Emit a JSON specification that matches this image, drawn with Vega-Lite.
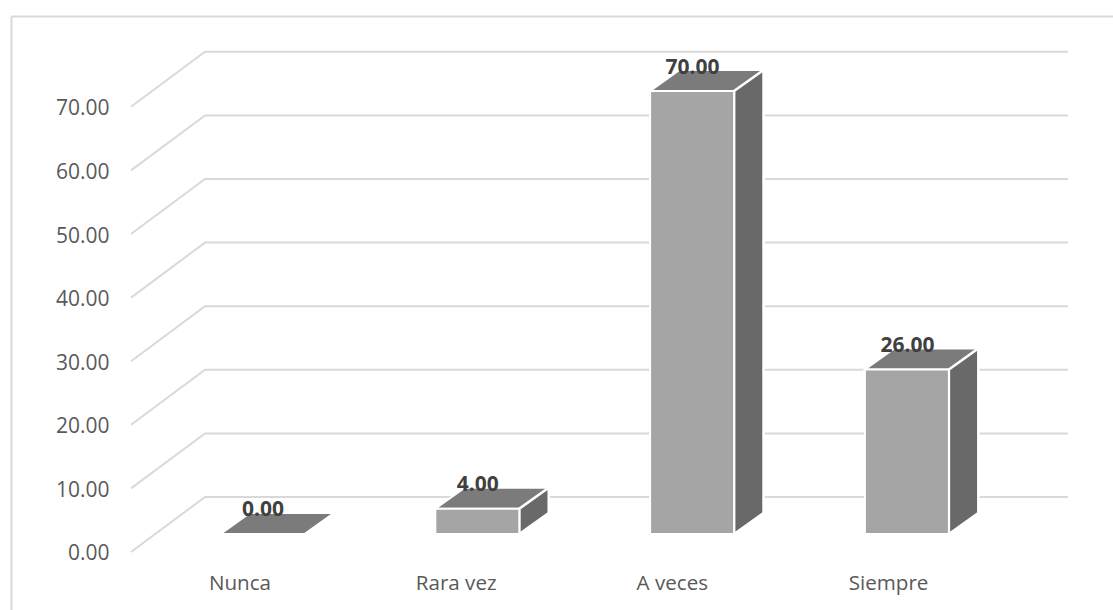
{
"$schema":"https://vega.github.io/schema/vega-lite/v6.json",
"width":1102,"height":594,
"padding":{"left":11,"top":16,"right":0,"bottom":0},
"autosize":"none",
"background":"white",
"view":{"stroke":null},
"config":{"font":"Open Sans"},
"data":{"values":[
{"categoria":"Nunca","valor":0},
{"categoria":"Rara vez","valor":4},
{"categoria":"A veces","valor":70},
{"categoria":"Siempre","valor":26}]},
"transform":[
{"calculate":"indexof(['Nunca','Rara vez','A veces','Siempre'],datum.categoria)","as":"xc"},
{"calculate":"2.83+datum.valor*0.995","as":"h"}],
"resolve":{"scale":{"x":"independent"},"axis":{"x":"independent","y":"independent"}},
"layer":[
{"data":{"values":[{"v":0},{"v":10},{"v":20},{"v":30},{"v":40},{"v":50},{"v":60},{"v":70}]},
 "transform":[
 {"calculate":"-0.6145","as":"p0"},{"calculate":"-0.27","as":"p1"},{"calculate":"3.7477","as":"p2"},
 {"fold":["p0","p1","p2"],"as":["corner","gx"]},
 {"calculate":"datum.corner=='p0'?datum.v:datum.v+8.65","as":"gy"}],
 "mark":{"type":"line","color":"#d9d9d9","strokeWidth":2,"clip":false},
 "encoding":{
  "x":{"field":"gx","type":"quantitative","scale":{"domain":[-1.1732,3.9572],"nice":false,"zero":false},
    "axis":{"orient":"top","title":null,"labels":false,"ticks":false,"grid":false,"domain":true,"domainColor":"#d9d9d9","domainWidth":2}},
  "y":{"field":"gy","type":"quantitative","scale":{"domain":[-9.12,84.28],"nice":false,"zero":false},
    "axis":{"orient":"left","title":null,"values":[0,10,20,30,40,50,60,70],"format":".2f","grid":false,"ticks":false,"tickSize":0,
      "domain":true,"domainColor":"#d9d9d9","domainWidth":2,"labelAlign":"right","labelBaseline":"middle","labelPadding":-98,"labelOffset":2,
      "labelFontSize":21,"labelColor":"#595959","labelFont":"Open Sans"}},
  "detail":{"field":"v"},
  "order":{"field":"gx"}}},
{"transform":[{"calculate":"0","as":"t0"},{"calculate":"1","as":"t1"},{"fold":["t0","t1"],"as":["corner","t"]},
  {"calculate":"datum.xc-0.1978+datum.t*0.137","as":"xa"},{"calculate":"datum.xc+0.1932+datum.t*0.137","as":"xb"},
  {"calculate":"datum.h+datum.t*3.3","as":"ya"}],
 "mark":{"type":"area","orient":"horizontal","color":"#7b7b7b","stroke":"white","strokeWidth":2},
 "encoding":{
  "x":{"field":"xa","type":"quantitative","scale":{"domain":[-1.1732,3.9572],"nice":false,"zero":false},"axis":null,"stack":null},
  "x2":{"field":"xb"},
  "y":{"field":"ya","type":"quantitative","axis":null},
  "detail":{"field":"categoria"}}},
{"transform":[{"filter":"datum.valor>0"},{"calculate":"0","as":"t0"},{"calculate":"1","as":"t1"},{"fold":["t0","t1"],"as":["corner","t"]},
  {"calculate":"datum.xc+0.1932+datum.t*0.137","as":"xa"},
  {"calculate":"datum.h+datum.t*3.3","as":"ya"},{"calculate":"2.83+datum.t*3.3","as":"yb"}],
 "mark":{"type":"area","color":"#696969","stroke":"white","strokeWidth":2.5},
 "encoding":{
  "x":{"field":"xa","type":"quantitative","scale":{"domain":[-1.1732,3.9572],"nice":false,"zero":false},"axis":null},
  "y":{"field":"ya","type":"quantitative","axis":null,"stack":null},
  "y2":{"field":"yb"},
  "detail":{"field":"categoria"}}},
{"transform":[{"filter":"datum.valor>0"},
  {"calculate":"datum.xc-0.1978","as":"xa"},{"calculate":"datum.xc+0.1932","as":"xb"},{"calculate":"2.83","as":"yb"}],
 "mark":{"type":"rect","color":"#a5a5a5","stroke":"white","strokeWidth":2},
 "encoding":{
  "x":{"field":"xa","type":"quantitative","scale":{"domain":[-1.1732,3.9572],"nice":false,"zero":false},"axis":null},
  "x2":{"field":"xb"},
  "y":{"field":"h","type":"quantitative","axis":null},
  "y2":{"field":"yb"}}},
{"transform":[{"calculate":"datum.h+3.7","as":"ly"}],
 "mark":{"type":"text","font":"Open Sans","fontWeight":"bold","fontSize":21,"color":"#404040","baseline":"middle","align":"center"},
 "encoding":{
  "x":{"field":"xc","type":"quantitative","scale":{"domain":[-1.1732,3.9572],"nice":false,"zero":false},"axis":null},
  "y":{"field":"ly","type":"quantitative","axis":null},
  "text":{"field":"valor","type":"quantitative","format":".2f"}}},
{"mark":{"type":"point","opacity":0},
 "encoding":{
  "x":{"field":"categoria","type":"nominal","sort":null,
    "scale":{"type":"point","padding":0,"domain":["Nunca","Rara vez","A veces","Siempre"],"range":[228.5,877]},
    "axis":{"orient":"bottom","title":null,"labelAngle":0,"ticks":false,"tickSize":0,"domain":false,"grid":false,"labelBaseline":"middle","labelPadding":-27,
      "labelFontSize":20.6,"labelColor":"#595959","labelFont":"Open Sans"}},
  "y":{"field":"h","type":"quantitative","axis":null}}}
]}
